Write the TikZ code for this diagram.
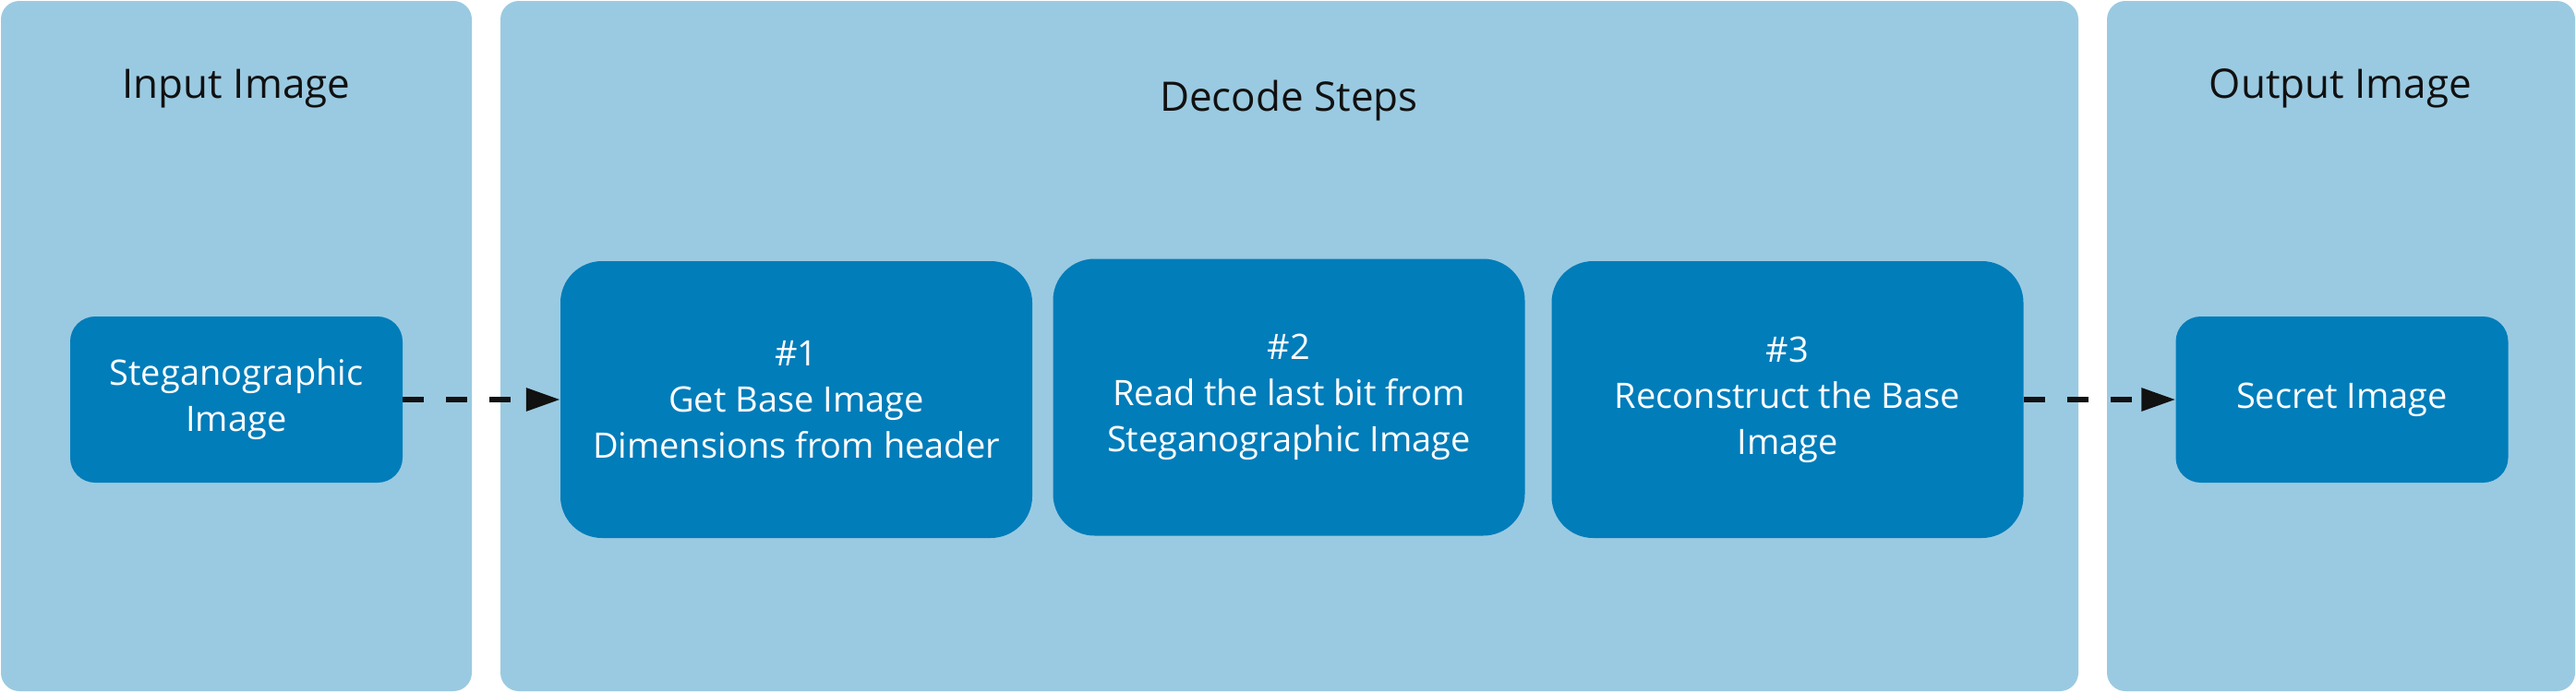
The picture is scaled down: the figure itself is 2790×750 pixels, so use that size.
\documentclass[tikz,border=0pt]{standalone}
\usepackage{fontspec}
\setmainfont{Open Sans}
\usetikzlibrary{arrows.meta}
\definecolor{panelblue}{RGB}{154,202,225}
\definecolor{boxblue}{RGB}{1,125,186}
\definecolor{inkblack}{RGB}{17,17,17}
\tikzset{
  panel/.style={fill=panelblue, draw=none, rounded corners=20pt, inner sep=0pt},
  paneltitle/.style={text=inkblack, font=\fontsize{44}{52}\selectfont, inner sep=0pt, anchor=base},
  smallbox/.style={fill=boxblue, draw=none, rounded corners=27pt, minimum width=360pt, minimum height=180pt, inner sep=0pt, text=white, align=center, font=\fontsize{38}{50}\selectfont},
  stepbox/.style={fill=boxblue, draw=none, rounded corners=45pt, minimum width=511pt, minimum height=300pt, inner sep=0pt, text=white, align=center, font=\fontsize{38}{50}\selectfont},
  conn/.style={draw=inkblack, line width=6pt, dash pattern=on 23pt off 24pt, -{Triangle[length=37pt, width=24pt]}}
}
\begin{document}
\begin{tikzpicture}[x=1pt, y=-1pt]
\useasboundingbox (0,0) rectangle (2790,750);
% panels
\node[panel, minimum width=510pt, minimum height=748pt] (pin) at (256,375) {};
\node[panel, minimum width=1709pt, minimum height=748pt] (pdec) at (1396.5,375) {};
\node[panel, minimum width=507pt, minimum height=748pt] (pout) at (2535.5,375) {};
% titles
\node[paneltitle] (tin) at (256,106) {Input Image};
\node[paneltitle] (tdec) at (1396,120) {Decode Steps};
\node[paneltitle] (tout) at (2535,106) {Output Image};
% boxes
\node[smallbox] (steg) at (256,433) {Steganographic\\Image};
\node[stepbox] (s1) at (862.5,433) {\#1\\Get Base Image\\Dimensions from header};
\node[stepbox] (s2) at (1396,430.5) {\#2\\Read the last bit from\\Steganographic Image};
\node[stepbox] (s3) at (1936,433) {\#3\\Reconstruct the Base\\Image};
\node[smallbox] (secret) at (2536.5,433) {Secret Image};
% connectors
\draw[conn] (steg.east) -- (s1.west);
\draw[conn] (s3.east) -- (secret.west);
\end{tikzpicture}
\end{document}
